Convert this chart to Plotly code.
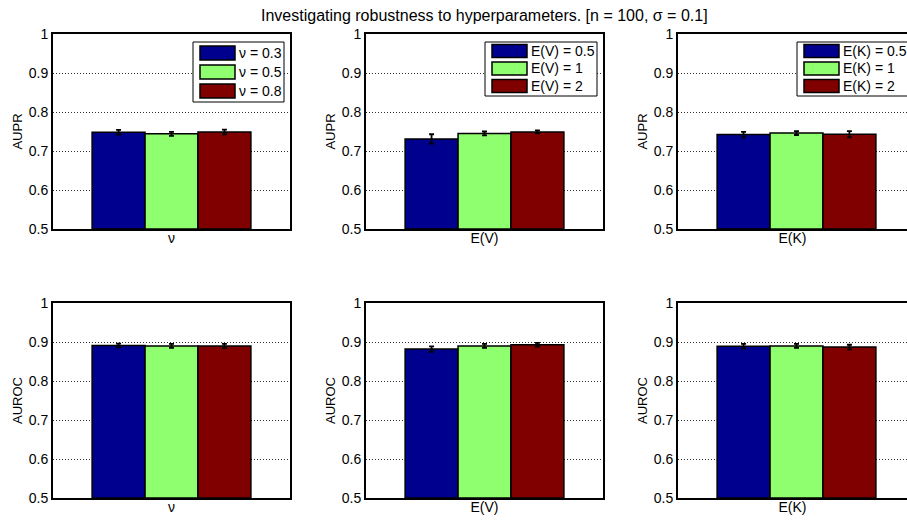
import plotly.graph_objects as go
from plotly.subplots import make_subplots

# ---------------- data ----------------
title_text = "Investigating robustness to hyperparameters. [n = 100, σ = 0.1]"
group_labels = ["ν", "E(V)", "E(K)"]
series_labels = [
    ["ν = 0.3", "ν = 0.5", "ν = 0.8"],
    ["E(V) = 0.5", "E(V) = 1", "E(V) = 2"],
    ["E(K) = 0.5", "E(K) = 1", "E(K) = 2"],
]
metric_labels = ["AUPR", "AUROC"]

# rows: metric, cols: hyperparameter; each list = 3 settings
aupr_values = [
    [0.748, 0.744, 0.749],
    [0.731, 0.745, 0.749],
    [0.742, 0.746, 0.743],
]
aupr_errors = [
    [0.006, 0.005, 0.006],
    [0.012, 0.005, 0.004],
    [0.007, 0.005, 0.008],
]
auroc_values = [
    [0.891, 0.890, 0.890],
    [0.882, 0.890, 0.893],
    [0.889, 0.890, 0.887],
]
auroc_errors = [
    [0.005, 0.005, 0.005],
    [0.007, 0.005, 0.005],
    [0.006, 0.005, 0.006],
]
y_tick_vals = [0.5, 0.6, 0.7, 0.8, 0.9, 1.0]
y_tick_text = ["0.5", "0.6", "0.7", "0.8", "0.9", "1"]

# ---------------- style / layout ----------------
W, H = 907, 521
colors = ["#00008F", "#8FFF70", "#800000"]
FONT = "Liberation Sans, Arial, Helvetica, sans-serif"
FS = 14

# pixel geometry of axes
col_px = [(53, 290), (366, 603), (678, 915)]   # third panel is cut by the image edge
row_px = [(34, 229), (303, 498)]


def px_x(p):
    return p / W


def px_y(p):
    return 1 - p / H


fig = make_subplots(rows=2, cols=3)

metric_data = [(aupr_values, aupr_errors), (auroc_values, auroc_errors)]

for r in range(2):
    vals, errs = metric_data[r]
    for c in range(3):
        for k in range(3):
            fig.add_trace(
                go.Bar(
                    x=[group_labels[c]],
                    y=[vals[c][k] - 0.5],
                    base=0.5,
                    name=series_labels[c][k],
                    marker=dict(color=colors[k], line=dict(color="black", width=1.5)),
                    error_y=dict(type="data", array=[errs[c][k]], color="black",
                                 thickness=1.8, width=2.5),
                    showlegend=False,
                ),
                row=r + 1, col=c + 1,
            )

fig.update_layout(
    width=W, height=H, autosize=False,
    margin=dict(l=0, r=0, t=0, b=0, autoexpand=False),
    paper_bgcolor="white", plot_bgcolor="white",
    barmode="group", bargap=0.33, bargroupgap=0.0,
    font=dict(family=FONT, size=FS, color="black"),
    showlegend=False,
)

for r in range(2):
    for c in range(3):
        idx = r * 3 + c + 1
        xa = "xaxis" if idx == 1 else f"xaxis{idx}"
        ya = "yaxis" if idx == 1 else f"yaxis{idx}"
        x0, x1 = col_px[c]
        y0, y1 = row_px[r]
        full_w = x1 - x0
        vis_x1 = min(x1, W)
        dom_x = [px_x(x0), px_x(vis_x1)]
        dom_y = [px_y(y1), px_y(y0)]
        xr_hi = -0.5 + (vis_x1 - x0) / full_w
        fig.layout[xa].update(
            domain=dom_x, range=[-0.5, xr_hi], type="category",
            showticklabels=False, ticks="", showgrid=False, zeroline=False,
            showline=True, linecolor="black", linewidth=2, mirror=True,
            automargin=False,
            title=dict(text=group_labels[c], standoff=3, font=dict(size=FS)),
            fixedrange=True,
        )
        fig.layout[ya].update(
            domain=dom_y, range=[0.5, 1.0],
            tickvals=y_tick_vals, ticktext=y_tick_text, ticks="",
            showgrid=True, gridcolor="#333333", griddash="1px,2px", gridwidth=1,
            zeroline=False,
            showline=True, linecolor="black", linewidth=2,
            mirror=(x1 <= W),
            automargin=False,
            title=dict(text=metric_labels[r], standoff=3, font=dict(size=FS - 1)),
            fixedrange=True,
        )

shapes = []
annotations = []

# figure title
annotations.append(dict(
    text=title_text, x=px_x(484), y=px_y(16), xref="paper", yref="paper",
    xanchor="center", yanchor="middle", showarrow=False, font=dict(size=16),
))

# legends (top row panels), pixel geometry
legend_geo = [
    dict(left=193, top=42, height=60, first=53, step=19, sw_h=14),
    dict(left=485, top=42, height=54, first=51, step=17.5, sw_h=13),
    dict(left=797, top=42, height=54, first=51, step=17.5, sw_h=13),
]
for c in range(3):
    g = legend_geo[c]
    right = col_px[c][1] - 6
    shapes.append(dict(
        type="rect", xref="paper", yref="paper",
        x0=px_x(g["left"]), x1=px_x(right),
        y0=px_y(g["top"] + g["height"]), y1=px_y(g["top"]),
        fillcolor="white", line=dict(color="black", width=1), layer="above",
    ))
    for k in range(3):
        cy = g["first"] + k * g["step"]
        sx0 = g["left"] + 7
        sx1 = sx0 + 35
        shapes.append(dict(
            type="rect", xref="paper", yref="paper",
            x0=px_x(sx0), x1=px_x(sx1),
            y0=px_y(cy + g["sw_h"] / 2), y1=px_y(cy - g["sw_h"] / 2),
            fillcolor=colors[k], line=dict(color="black", width=1.5), layer="above",
        ))
        annotations.append(dict(
            text=series_labels[c][k], x=px_x(sx1 + 2), y=px_y(cy),
            xref="paper", yref="paper", xanchor="left", yanchor="middle",
            showarrow=False, font=dict(size=FS),
        ))

fig.update_layout(shapes=shapes, annotations=annotations)

fig.write_html("out.html")
